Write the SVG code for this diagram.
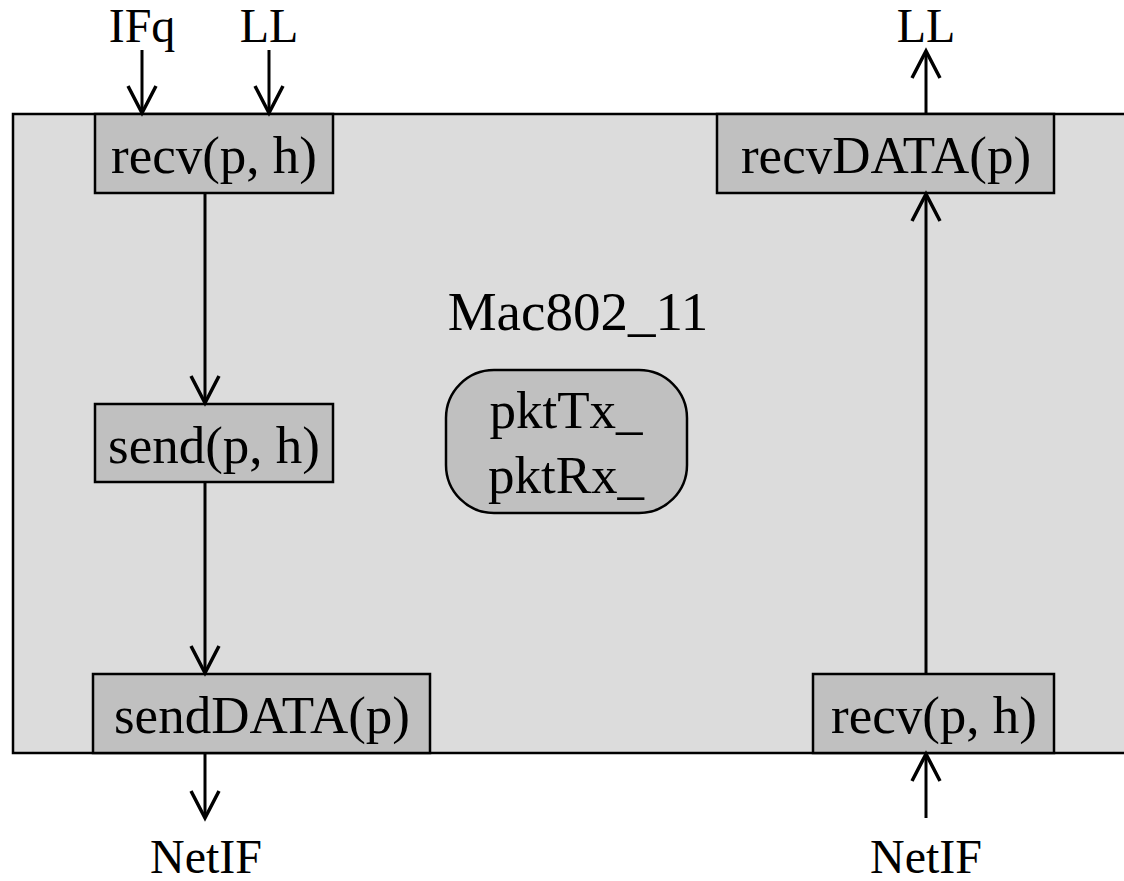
<svg xmlns="http://www.w3.org/2000/svg" width="1124" height="881" viewBox="0 0 1124 881">
  <style>
    text { font-family: "Liberation Serif", "Times New Roman", serif; font-size: 48px; fill: #000; }
    .lbl { font-size: 53px; }
    .title { font-size: 55px; }
    .func { fill: #c0c0c0; stroke: #000; stroke-width: 2.5; }
    .wire { stroke: #000; stroke-width: 3; fill: none; marker-end: url(#head); }
  </style>
  <defs>
    <marker id="head" markerUnits="userSpaceOnUse" viewBox="-32 -16 34 32" markerWidth="34" markerHeight="32" refX="0" refY="0" orient="auto" overflow="visible">
      <path d="M-27,-14 L0,0 L-27,14" fill="none" stroke="#000" stroke-width="3.5"/>
    </marker>
  </defs>

  <!-- MAC object body -->
  <g id="mac">
    <rect x="13" y="114" width="1130" height="639" fill="#dcdcdc" stroke="#000" stroke-width="2.5"/>
    <text class="title" x="578" y="330" text-anchor="middle">Mac802_11</text>
  </g>

  <!-- state variables -->
  <g id="state">
    <rect x="446" y="370" width="241" height="143" rx="48" ry="48" class="func"/>
    <text class="lbl" x="566" y="428" text-anchor="middle">pktTx_</text>
    <text class="lbl" x="566" y="493" text-anchor="middle">pktRx_</text>
  </g>

  <g id="recv-top">
    <rect x="95" y="114" width="238" height="79" class="func"/>
    <text class="lbl" x="214" y="173" text-anchor="middle">recv(p, h)</text>
  </g>

  <g id="send">
    <rect x="95" y="404" width="238" height="78" class="func"/>
    <text class="lbl" x="214" y="463" text-anchor="middle">send(p, h)</text>
  </g>

  <g id="sendDATA">
    <rect x="93" y="674" width="337" height="79" class="func"/>
    <text class="lbl" x="262" y="733" text-anchor="middle">sendDATA(p)</text>
  </g>

  <g id="recvDATA">
    <rect x="717" y="114" width="337" height="79" class="func"/>
    <text class="lbl" x="886" y="173" text-anchor="middle">recvDATA(p)</text>
  </g>

  <g id="recv-bottom">
    <rect x="813" y="674" width="241" height="79" class="func"/>
    <text class="lbl" x="934" y="733" text-anchor="middle">recv(p, h)</text>
  </g>

  <!-- external endpoints -->
  <g id="ext-ifq"><text x="142" y="42" text-anchor="middle">IFq</text></g>
  <g id="ext-ll-in"><text x="269" y="42" text-anchor="middle">LL</text></g>
  <g id="ext-ll-out"><text x="926" y="42" text-anchor="middle">LL</text></g>
  <g id="ext-netif-out"><text x="206" y="873" text-anchor="middle">NetIF</text></g>
  <g id="ext-netif-in"><text x="926" y="873" text-anchor="middle">NetIF</text></g>

  <!-- connectors -->
  <g id="connectors">
    <line x1="142" y1="50" x2="142" y2="113" class="wire"/>
    <line x1="269" y1="50" x2="269" y2="113" class="wire"/>
    <line x1="205" y1="193" x2="205" y2="403" class="wire"/>
    <line x1="205" y1="482" x2="205" y2="673" class="wire"/>
    <line x1="205" y1="753" x2="205" y2="818" class="wire"/>
    <line x1="926" y1="674" x2="926" y2="194" class="wire"/>
    <line x1="926" y1="114" x2="926" y2="51" class="wire"/>
    <line x1="926" y1="818" x2="926" y2="754" class="wire"/>
  </g>
</svg>
